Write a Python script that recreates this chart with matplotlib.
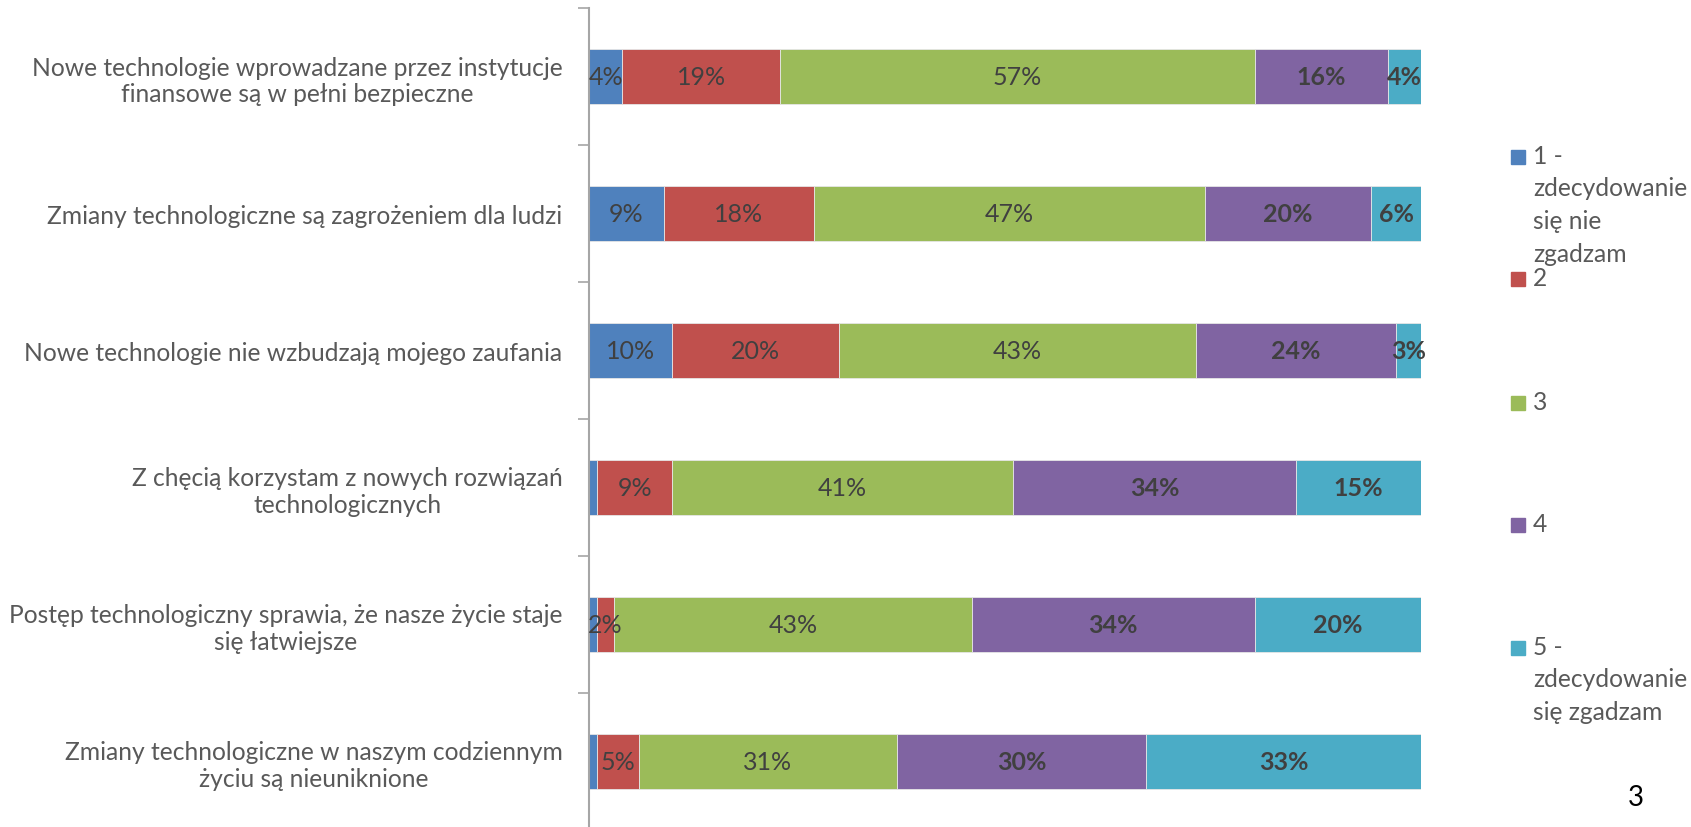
import matplotlib
matplotlib.use("Agg")
import matplotlib.pyplot as plt
import numpy as np

plt.rcParams['font.family'] = ['Lato', 'DejaVu Sans']

categories = [
    "Nowe technologie wprowadzane przez instytucje\nfinansowe są w pełni bezpieczne",
    "Zmiany technologiczne są zagrożeniem dla ludzi",
    "Nowe technologie nie wzbudzają mojego zaufania",
    "Z chęcią korzystam z nowych rozwiązań\ntechnologicznych",
    "Postęp technologiczny sprawia, że nasze życie staje\nsię łatwiejsze",
    "Zmiany technologiczne w naszym codziennym\nżyciu są nieuniknione",
]
series_names = ["1 -\nzdecydowanie\nsię nie\nzgadzam", "2", "3", "4",
                "5 -\nzdecydowanie\nsię zgadzam"]
s1 = [4, 9, 10, 1, 1, 1]
s2 = [19, 18, 20, 9, 2, 5]
s3 = [57, 47, 43, 41, 43, 31]
s4 = [16, 20, 24, 34, 34, 30]
s5 = [4, 6, 3, 15, 20, 33]
colors = ["#4F81BD", "#C0504D", "#9BBB59", "#8064A2", "#4BACC6"]

W, H = 1691, 828
fig = plt.figure(figsize=(W/100, H/100), dpi=100)
ax = fig.add_axes([589/W, -3/H, 832/W, 822/H])

y = np.arange(len(categories))
left = np.zeros(len(categories))
for i, vals in enumerate([s1, s2, s3, s4, s5]):
    vals = np.array(vals, dtype=float)
    ax.barh(y, vals, left=left, height=0.4, color=colors[i],
            edgecolor="#E6E6E6", linewidth=0.6)
    for yy, l, v in zip(y, left, vals):
        if v < 2:
            continue
        ax.text(l + v/2, yy, f"{int(v)}%", ha="center", va="center",
                fontsize=18, color="#404040",
                fontweight="bold" if i >= 3 else "normal")
    left += vals

ax.set_xlim(0, 100)
ax.set_ylim(len(categories) - 0.5, -0.5)
ax.set_yticks(y)
ax.set_yticklabels(categories, ha="right", multialignment="center",
                   fontsize=17.7, color="#595959")
ax.tick_params(axis="y", which="major", length=0, pad=19)
ax.set_yticks(np.arange(-0.5, len(categories)), minor=True)
ax.tick_params(axis="y", which="minor", length=8, color="#A6A6A6", width=1.2)
ax.set_xticks([])
for s in ["top", "right", "bottom"]:
    ax.spines[s].set_visible(False)
ax.spines["left"].set_color("#A6A6A6")
ax.spines["left"].set_linewidth(1.5)

# legend drawn by hand, Excel style (marker at first line)
legend_y = [158, 280, 404, 526, 649]   # square centres, px from top
for c, name, ly in zip(colors, series_names, legend_y):
    fig.add_artist(plt.Rectangle((1511/W, 1 - (ly + 7)/H), 14/W, 14/H,
                                 color=c, transform=fig.transFigure))
    fig.text(1533/W, 1 - (ly - 13)/H, name, ha="left", va="top",
             fontsize=17.7, color="#595959", linespacing=1.5)

fig.text(1636/W, 1 - 798/H, "3", fontsize=20, ha="center", va="center",
         color="black")

fig.savefig("out.png", dpi=100)
